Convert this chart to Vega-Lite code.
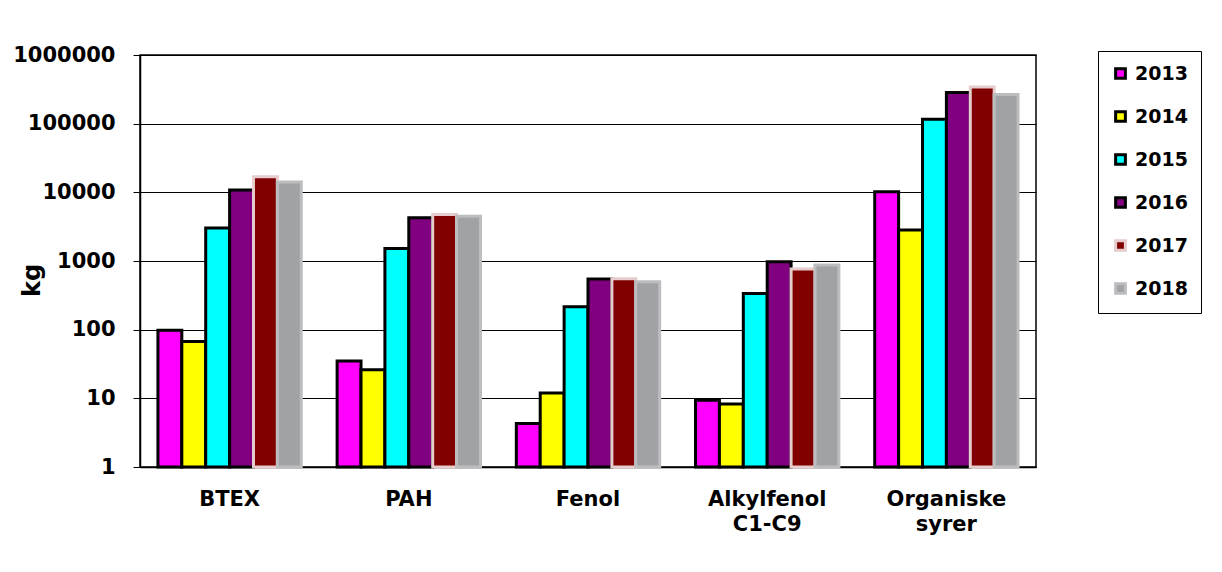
{
  "$schema": "https://vega.github.io/schema/vega-lite/v6.json",
  "width": 896,
  "height": 412,
  "autosize": {"type": "none"},
  "padding": {"left": 140, "top": 55, "right": 186, "bottom": 105},
  "background": "white",
  "data": {
    "values": [
      {"kat": "BTEX", "aar": "2013", "kg": 98},
      {"kat": "BTEX", "aar": "2014", "kg": 67},
      {"kat": "BTEX", "aar": "2015", "kg": 3030},
      {"kat": "BTEX", "aar": "2016", "kg": 10800},
      {"kat": "BTEX", "aar": "2017", "kg": 16800},
      {"kat": "BTEX", "aar": "2018", "kg": 14200},
      {"kat": "PAH", "aar": "2013", "kg": 35},
      {"kat": "PAH", "aar": "2014", "kg": 26},
      {"kat": "PAH", "aar": "2015", "kg": 1520},
      {"kat": "PAH", "aar": "2016", "kg": 4260},
      {"kat": "PAH", "aar": "2017", "kg": 4770},
      {"kat": "PAH", "aar": "2018", "kg": 4500},
      {"kat": "Fenol", "aar": "2013", "kg": 4.3},
      {"kat": "Fenol", "aar": "2014", "kg": 12},
      {"kat": "Fenol", "aar": "2015", "kg": 215},
      {"kat": "Fenol", "aar": "2016", "kg": 545},
      {"kat": "Fenol", "aar": "2017", "kg": 550},
      {"kat": "Fenol", "aar": "2018", "kg": 498},
      {"kat": "Alkylfenol C1-C9", "aar": "2013", "kg": 9.4},
      {"kat": "Alkylfenol C1-C9", "aar": "2014", "kg": 8.3},
      {"kat": "Alkylfenol C1-C9", "aar": "2015", "kg": 337},
      {"kat": "Alkylfenol C1-C9", "aar": "2016", "kg": 975},
      {"kat": "Alkylfenol C1-C9", "aar": "2017", "kg": 762},
      {"kat": "Alkylfenol C1-C9", "aar": "2018", "kg": 871},
      {"kat": "Organiske syrer", "aar": "2013", "kg": 10200},
      {"kat": "Organiske syrer", "aar": "2014", "kg": 2820},
      {"kat": "Organiske syrer", "aar": "2015", "kg": 116000},
      {"kat": "Organiske syrer", "aar": "2016", "kg": 284000},
      {"kat": "Organiske syrer", "aar": "2017", "kg": 343000},
      {"kat": "Organiske syrer", "aar": "2018", "kg": 266000}
    ]
  },
  "mark": {"type": "bar"},
  "encoding": {
    "x": {
      "field": "kat",
      "type": "nominal",
      "sort": null,
      "scale": {"paddingInner": 0.2, "paddingOuter": 0.1},
      "axis": {
        "title": null,
        "labelAngle": 0,
        "labelExpr": "split(datum.label, ' ')",
        "labelLineHeight": 25,
        "labelPadding": 21,
        "ticks": false,
        "domainColor": "black",
        "domainWidth": 1.5
      }
    },
    "xOffset": {
      "field": "aar",
      "type": "ordinal",
      "scale": {"paddingInner": 0, "paddingOuter": 0}
    },
    "y": {
      "field": "kg",
      "type": "quantitative",
      "scale": {"type": "log", "domain": [1, 1000000], "nice": false},
      "axis": {
        "title": "kg",
        "titleFontSize": 24,
        "titleAngle": -90,
        "titleX": -108,
        "titleY": 225,
        "titleAlign": "center",
        "titleBaseline": "middle",
        "values": [1, 10, 100, 1000, 10000, 100000, 1000000],
        "format": "d",
        "tickSize": 7,
        "tickColor": "black",
        "labelPadding": 18,
        "domainColor": "black",
        "domainWidth": 1.5,
        "grid": true,
        "gridColor": "black",
        "gridWidth": 1,
        "gridOpacity": 1
      }
    },
    "y2": {"datum": 1},
    "color": {
      "field": "aar",
      "type": "ordinal",
      "scale": {
        "domain": ["2013", "2014", "2015", "2016", "2017", "2018"],
        "range": ["#ff00ff", "#ffff00", "#00ffff", "#800080", "#800000", "#a0a2a5"]
      },
      "legend": {
        "title": null,
        "orient": "none",
        "legendX": 958,
        "legendY": -4,
        "symbolType": "square",
        "symbolSize": 95,
        "symbolOpacity": 1,
        "labelFontSize": 19,
        "labelFont": "DejaVu Sans",
        "labelFontWeight": "bold",
        "labelOffset": 5,
        "rowPadding": 20,
        "padding": 13,
        "strokeColor": "black",
        "fillColor": "white"
      }
    },
    "stroke": {
      "field": "aar",
      "type": "ordinal",
      "scale": {
        "domain": ["2013", "2014", "2015", "2016", "2017", "2018"],
        "range": ["black", "black", "black", "black", "#e6cccc", "#bcbdbf"]
      },
      "legend": {"title": null}
    },
    "strokeWidth": {
      "field": "aar",
      "type": "ordinal",
      "scale": {
        "domain": ["2013", "2014", "2015", "2016", "2017", "2018"],
        "range": [3, 3, 3, 3, 1, 1]
      },
      "legend": {"title": null}
    }
  },
  "config": {
    "font": "DejaVu Sans",
    "view": {"stroke": "black", "strokeWidth": 1.5},
    "axis": {
      "labelFont": "DejaVu Sans",
      "labelFontWeight": "bold",
      "labelFontSize": 21,
      "labelColor": "black",
      "titleFont": "DejaVu Sans",
      "titleFontWeight": "bold",
      "titleColor": "black"
    },
    "legend": {"labelColor": "black"}
  }
}
